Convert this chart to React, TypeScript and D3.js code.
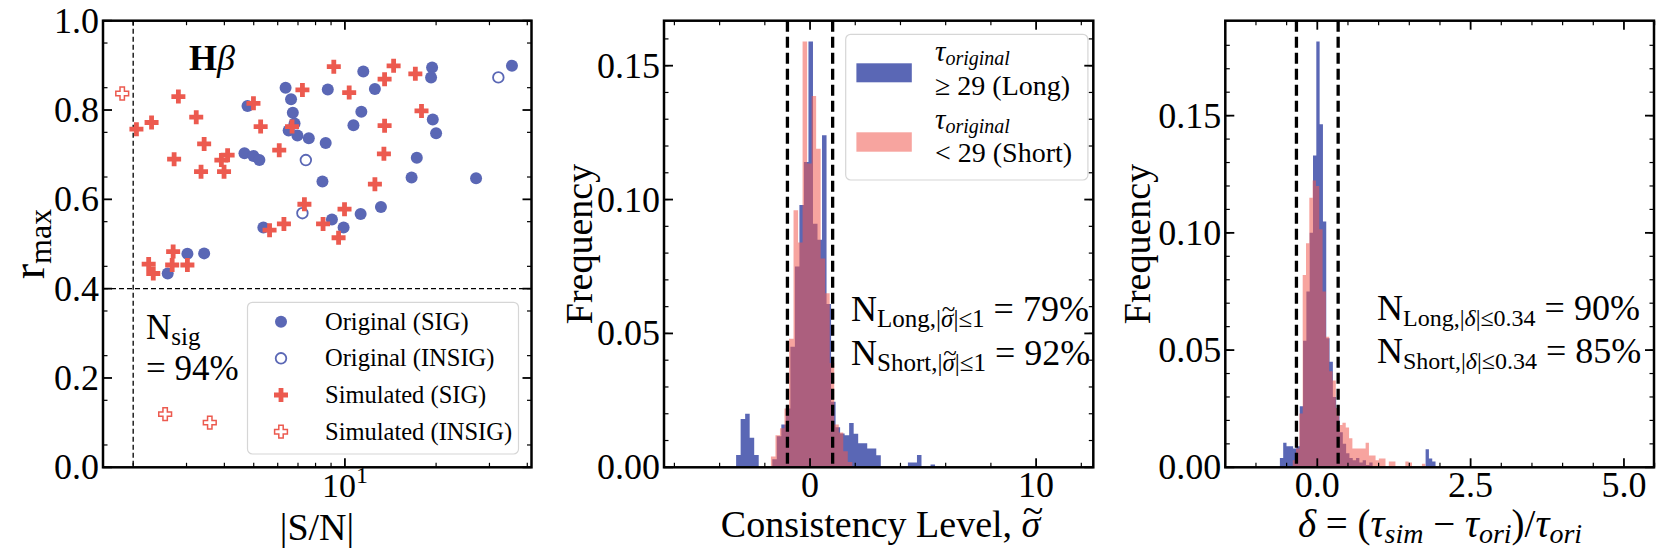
import React from "react";
import * as d3 from "d3";

const FONT = "'Liberation Serif','Times New Roman',serif";
const BLUE = "#5a67b5";
const RED = "#ec5a4f";
const HRED = "#f05a50";

// ---------------- Panel 1 : r_max vs |S/N| ----------------
const blueSigSN = [2.60, 3.02, 3.43, 4.66, 4.99, 5.22, 4.77, 5.38, 6.37, 6.64, 6.73, 6.82, 6.52, 6.97, 7.60, 8.64, 8.78, 8.43, 9.06, 9.90, 11.27, 11.5, 10.67, 11.33, 12.56, 13.15, 16.6, 17.27, 19.4, 19.25, 19.5, 20.0, 27.1, 35.6];
const blueSigR = [0.434, 0.478, 0.479, 0.703, 0.697, 0.688, 0.809, 0.537, 0.850, 0.824, 0.794, 0.770, 0.754, 0.743, 0.737, 0.726, 0.846, 0.640, 0.555, 0.537, 0.567, 0.886, 0.766, 0.796, 0.847, 0.583, 0.649, 0.693, 0.895, 0.873, 0.779, 0.748, 0.647, 0.899];
const blueInsigSN = [7.43, 7.24, 32.1];
const blueInsigR = [0.688, 0.569, 0.873];
const redSigSN = [2.05, 2.30, 2.82, 2.73, 3.23, 3.43, 3.35, 3.91, 4.10, 3.99, 2.25, 2.33, 2.71, 2.69, 3.02, 4.99, 5.27, 6.07, 6.69, 7.24, 5.64, 6.29, 7.35, 8.47, 9.53, 9.97, 9.19, 10.33, 13.52, 14.48, 13.52, 13.45, 12.56, 17.08, 17.9];
const redSigR = [0.757, 0.772, 0.830, 0.690, 0.784, 0.724, 0.662, 0.688, 0.699, 0.662, 0.455, 0.434, 0.483, 0.453, 0.453, 0.815, 0.763, 0.710, 0.763, 0.845, 0.531, 0.545, 0.589, 0.545, 0.514, 0.578, 0.897, 0.839, 0.869, 0.899, 0.765, 0.702, 0.634, 0.881, 0.798];
const redInsigSN = [1.84, 2.55, 3.58];
const redInsigR = [0.837, 0.119, 0.100];
const p1YTicks = [0, 0.2, 0.4, 0.6, 0.8, 1.0];
const p1YLabels = ["0.0", "0.2", "0.4", "0.6", "0.8", "1.0"];
const p1XMinor = [2, 3, 4, 5, 6, 7, 8, 9, 20, 30, 40];
const snThreshold = 2;
const rThreshold = 0.4;
const legend1 = ["Original (SIG)", "Original (INSIG)", "Simulated (SIG)", "Simulated (INSIG)"];

// ---------------- Panel 2 : consistency level histogram ----------------
const consBinW = 0.2;
const consBlueStart = -3.27;
const consBlue = [0.0046, 0.018, 0.020, 0.011, 0.0046, 0, 0, 0, 0.003, 0.0116, 0.016, 0.022, 0.045, 0.075, 0.098, 0.114, 0.159, 0.091, 0.085, 0.124, 0.061, 0.0245, 0.015, 0.0126, 0.012, 0.0165, 0.0125, 0.009, 0.009, 0.007, 0.007, 0.0045, 0, 0, 0, 0, 0, 0, 0.0018, 0.0018, 0.0046, 0, 0, 0.001];
const consRedStart = -1.73;
const consRed = [0.004, 0.012, 0.0146, 0.022, 0.048, 0.096, 0.084, 0.159, 0.1135, 0.1387, 0.119, 0.078, 0.065, 0.039, 0.016, 0.013, 0.006, 0.002];
const consXTicks = [0, 10];
const consYTicks = [0, 0.05, 0.10, 0.15];
const consYLabels = ["0.00", "0.05", "0.10", "0.15"];
const consLimit = 1;

// ---------------- Panel 3 : delta histogram ----------------
const delBinW = 0.054;
const delBlueStart = -0.61;
const delBlue = [0.004, 0.0105, 0.009, 0.009, 0.008, 0.009, 0.026, 0.054, 0.075, 0.10, 0.133, 0.1816, 0.1463, 0.1048, 0.055, 0.045, 0.03, 0.022, 0.015, 0.01, 0.006, 0.004, 0.003, 0.004, 0.002, 0.003, 0.001, 0.002, 0, 0, 0, 0, 0, 0, 0, 0, 0, 0, 0, 0, 0, 0, 0, 0, 0.0077, 0.0038, 0.0025];
const delRedStart = -0.40;
const delRed = [0.003, 0.008, 0.023, 0.082, 0.0956, 0.115, 0.1223, 0.12, 0.1015, 0.075, 0.0557, 0.041, 0.037, 0.0253, 0.018, 0.019, 0.017, 0.0124, 0.008, 0.008, 0.008, 0.008, 0.0105, 0.005, 0.005, 0.003, 0.0038, 0.0038, 0, 0.0025, 0.0025, 0, 0, 0, 0.0025, 0.002, 0, 0, 0, 0.0015];
const delXTicks = [0, 2.5, 5.0];
const delXLabels = ["0.0", "2.5", "5.0"];
const delYTicks = [0, 0.05, 0.10, 0.15];
const delLimit = 0.34;

// ---------------- layout ----------------
const TOP = 20.7;
const BOT = 467.3;
const P1 = [103, 531.5];
const P2 = [664, 1093.3];
const P3 = [1225.3, 1654];

const x1 = d3.scaleLog().domain([1.59, 41.3]).range(P1);
const y1 = d3.scaleLinear().domain([0, 1]).range([BOT, TOP]);
const x2 = d3.scaleLinear().domain([-6.46, 12.53]).range(P2);
const y2 = d3.scaleLinear().domain([0, 0.1668]).range([BOT, TOP]);
const x3 = d3.scaleLinear().domain([-1.5, 5.49]).range(P3);
const y3 = d3.scaleLinear().domain([0, 0.1905]).range([BOT, TOP]);

const MAJ = 9, MIN = 4.5;

function Ticks({ x, y, xMaj, xMin, yMaj, yMin }: any) {
  const [l, r] = x.range();
  const els: any[] = [];
  xMaj.forEach((v: number, i: number) => {
    const px = x(v);
    els.push(<line key={"xb" + i} x1={px} x2={px} y1={BOT} y2={BOT - MAJ} stroke="#000" strokeWidth={1.8} />);
    els.push(<line key={"xt" + i} x1={px} x2={px} y1={TOP} y2={TOP + MAJ} stroke="#000" strokeWidth={1.8} />);
  });
  xMin.forEach((v: number, i: number) => {
    const px = x(v);
    els.push(<line key={"xmb" + i} x1={px} x2={px} y1={BOT} y2={BOT - MIN} stroke="#000" strokeWidth={1.2} />);
    els.push(<line key={"xmt" + i} x1={px} x2={px} y1={TOP} y2={TOP + MIN} stroke="#000" strokeWidth={1.2} />);
  });
  yMaj.forEach((v: number, i: number) => {
    const py = y(v);
    els.push(<line key={"yl" + i} x1={l} x2={l + MAJ} y1={py} y2={py} stroke="#000" strokeWidth={1.8} />);
    els.push(<line key={"yr" + i} x1={r} x2={r - MAJ} y1={py} y2={py} stroke="#000" strokeWidth={1.8} />);
  });
  yMin.forEach((v: number, i: number) => {
    const py = y(v);
    els.push(<line key={"yml" + i} x1={l} x2={l + MIN} y1={py} y2={py} stroke="#000" strokeWidth={1.2} />);
    els.push(<line key={"ymr" + i} x1={r} x2={r - MIN} y1={py} y2={py} stroke="#000" strokeWidth={1.2} />);
  });
  return <g>{els}</g>;
}

function Frame({ x }: any) {
  const [l, r] = x.range();
  return <rect x={l} y={TOP} width={r - l} height={BOT - TOP} fill="none" stroke="#000" strokeWidth={2.5} />;
}

function YLabels({ x, y, vals, labels }: any) {
  const l = x.range()[0];
  return (
    <g fontFamily={FONT} fontSize={36} textAnchor="end">
      {vals.map((v: number, i: number) => (
        <text key={i} x={l - 4} y={y(v) + 12}>{labels[i]}</text>
      ))}
    </g>
  );
}

function Hist({ start, w, vals, x, y, fill, opacity }: any) {
  let d = "";
  vals.forEach((v: number, i: number) => {
    if (v <= 0) return;
    const a = x(start + i * w);
    const b = x(start + (i + 1) * w);
    d += `M${a},${y(0)}V${y(v)}H${b}V${y(0)}Z`;
  });
  return <path d={d} fill={fill} fillOpacity={opacity} />;
}

function plusPath(cx: number, cy: number, s = 7, a = 2.4) {
  return `M${cx - a},${cy - s}H${cx + a}V${cy - a}H${cx + s}V${cy + a}H${cx + a}V${cy + s}H${cx - a}V${cy + a}H${cx - s}V${cy - a}H${cx - a}Z`;
}

// sigma with a tilde over it, as tspans (fs = font size in px); `after` follows on the baseline
function SigmaTilde({ fs, up, after }: { fs: number; up: number; after?: string }) {
  const sw = 0.55 * fs;
  const tw = 0.541 * fs;
  return (
    <>
      <tspan fontStyle="italic">σ</tspan>
      <tspan dx={-(sw + tw) / 2 + 0.08 * fs} dy={-up * fs}>~</tspan>
      {after ? <tspan dx={(sw - tw) / 2 - 0.08 * fs} dy={up * fs}>{after}</tspan> : null}
    </>
  );
}

function Panel1() {
  const rows = [321.7, 358.3, 395, 431.7];
  const mx = 281;
  return (
    <g>
      <line x1={x1(snThreshold)} x2={x1(snThreshold)} y1={TOP} y2={BOT} stroke="#000" strokeWidth={1.3} strokeDasharray="5,3" />
      <line x1={P1[0]} x2={P1[1]} y1={y1(rThreshold)} y2={y1(rThreshold)} stroke="#000" strokeWidth={1.3} strokeDasharray="5,3" />
      {blueSigSN.map((v, i) => (
        <circle key={"bs" + i} cx={x1(v)} cy={y1(blueSigR[i])} r={6} fill={BLUE} />
      ))}
      {blueInsigSN.map((v, i) => (
        <circle key={"bi" + i} cx={x1(v)} cy={y1(blueInsigR[i])} r={5.3} fill="#fff" stroke={BLUE} strokeWidth={1.8} />
      ))}
      {redSigSN.map((v, i) => (
        <path key={"rs" + i} d={plusPath(x1(v), y1(redSigR[i]))} fill={RED} />
      ))}
      {redInsigSN.map((v, i) => (
        <path key={"ri" + i} d={plusPath(x1(v), y1(redInsigR[i]), 6.4, 2.2)} fill="#fff" stroke={RED} strokeWidth={1.5} />
      ))}
      <text x={189} y={70} fontFamily={FONT} fontSize={36}>
        <tspan fontWeight="bold">H</tspan>
        <tspan fontStyle="italic">β</tspan>
      </text>
      <text x={146} y={339} fontFamily={FONT} fontSize={35}>
        N<tspan fontSize={25} dy={6}>sig</tspan>
      </text>
      <text x={146} y={380} fontFamily={FONT} fontSize={35}>= 94%</text>
      <rect x={247.5} y={302.3} width={271} height={151.7} rx={5} fill="#fff" fillOpacity={0.85} stroke="#d6d6d6" strokeWidth={1.2} />
      <circle cx={mx} cy={rows[0]} r={6} fill={BLUE} />
      <circle cx={mx} cy={rows[1]} r={5.3} fill="#fff" stroke={BLUE} strokeWidth={1.8} />
      <path d={plusPath(mx, rows[2])} fill={RED} />
      <path d={plusPath(mx, rows[3], 6.4, 2.2)} fill="#fff" stroke={RED} strokeWidth={1.5} />
      <g fontFamily={FONT} fontSize={24.5}>
        {legend1.map((t, i) => (
          <text key={i} x={325} y={rows[i] + 8}>{t}</text>
        ))}
      </g>
      <Ticks x={x1} y={y1} xMaj={[10]} xMin={p1XMinor} yMaj={p1YTicks} yMin={d3.range(0.05, 1, 0.1)} />
      <Frame x={x1} />
      <YLabels x={x1} y={y1} vals={p1YTicks} labels={p1YLabels} />
      <text x={x1(10) - 23} y={497} fontFamily={FONT} fontSize={34}>
        10<tspan fontSize={24} dy={-14}>1</tspan>
      </text>
      <text x={317} y={540} fontFamily={FONT} fontSize={38} textAnchor="middle">|S/N|</text>
      <text transform={`translate(44,${(TOP + BOT) / 2}) rotate(-90)`} fontFamily={FONT} fontSize={46} textAnchor="middle">
        r<tspan fontSize={32} dy={7}>max</tspan>
      </text>
    </g>
  );
}

function Panel2() {
  return (
    <g>
      <Hist start={consBlueStart} w={consBinW} vals={consBlue} x={x2} y={y2} fill={BLUE} opacity={1} />
      <Hist start={consRedStart} w={consBinW} vals={consRed} x={x2} y={y2} fill={HRED} opacity={0.55} />
      {[-consLimit, consLimit].map((v, i) => (
        <line key={i} x1={x2(v)} x2={x2(v)} y1={TOP} y2={BOT} stroke="#000" strokeWidth={3.3} strokeDasharray="11,5" />
      ))}
      <rect x={845.7} y={34.3} width={242.2} height={145.7} rx={5} fill="#fff" fillOpacity={0.85} stroke="#d6d6d6" strokeWidth={1.2} />
      <rect x={856.4} y={63.3} width={55.4} height={19} fill={BLUE} />
      <rect x={856.4} y={132.3} width={55.4} height={19.4} fill={HRED} fillOpacity={0.55} />
      <g fontFamily={FONT}>
        <text x={935} y={61} fontSize={29}>
          <tspan fontStyle="italic">τ</tspan>
          <tspan fontStyle="italic" fontSize={20} dy={4}>original</tspan>
        </text>
        <text x={935} y={95} fontSize={28}>≥ 29 (Long)</text>
        <text x={935} y={129} fontSize={29}>
          <tspan fontStyle="italic">τ</tspan>
          <tspan fontStyle="italic" fontSize={20} dy={4}>original</tspan>
        </text>
        <text x={935} y={162} fontSize={28}>{"< 29 (Short)"}</text>
      </g>
      <g fontFamily={FONT} fontSize={36}>
        <text x={851} y={321}>
          N<tspan fontSize={25} dy={6}>Long,|</tspan>
          <tspan fontSize={25}><SigmaTilde fs={25} up={0.4} after="|≤1" /></tspan>
          <tspan dy={-6}> = 79%</tspan>
        </text>
        <text x={851} y={365}>
          N<tspan fontSize={25} dy={6}>Short,|</tspan>
          <tspan fontSize={25}><SigmaTilde fs={25} up={0.4} after="|≤1" /></tspan>
          <tspan dy={-6}> = 92%</tspan>
        </text>
      </g>
      <Ticks x={x2} y={y2} xMaj={consXTicks} xMin={d3.range(-6, 13, 2).filter((v) => v !== 0 && v !== 10)} yMaj={consYTicks} yMin={d3.range(0.01, 0.166, 0.01)} />
      <Frame x={x2} />
      <YLabels x={x2} y={y2} vals={consYTicks} labels={consYLabels} />
      <g fontFamily={FONT} fontSize={36} textAnchor="middle">
        {consXTicks.map((v, i) => (
          <text key={i} x={x2(v)} y={497}>{String(v)}</text>
        ))}
      </g>
      <text x={882} y={537} fontFamily={FONT} fontSize={38} textAnchor="middle">
        Consistency Level, <SigmaTilde fs={38} up={0.36} />
      </text>
      <text transform={`translate(592,${(TOP + BOT) / 2}) rotate(-90)`} fontFamily={FONT} fontSize={38} textAnchor="middle">Frequency</text>
    </g>
  );
}

function Panel3() {
  return (
    <g>
      <Hist start={delBlueStart} w={delBinW} vals={delBlue} x={x3} y={y3} fill={BLUE} opacity={1} />
      <Hist start={delRedStart} w={delBinW} vals={delRed} x={x3} y={y3} fill={HRED} opacity={0.55} />
      {[-delLimit, delLimit].map((v, i) => (
        <line key={i} x1={x3(v)} x2={x3(v)} y1={TOP} y2={BOT} stroke="#000" strokeWidth={3.3} strokeDasharray="11,5" />
      ))}
      <g fontFamily={FONT} fontSize={36}>
        <text x={1377} y={320}>
          N<tspan fontSize={24} dy={6}>Long,|<tspan fontStyle="italic">δ</tspan>|≤0.34</tspan>
          <tspan dy={-6}> = 90%</tspan>
        </text>
        <text x={1377} y={363}>
          N<tspan fontSize={24} dy={6}>Short,|<tspan fontStyle="italic">δ</tspan>|≤0.34</tspan>
          <tspan dy={-6}> = 85%</tspan>
        </text>
      </g>
      <Ticks x={x3} y={y3} xMaj={delXTicks} xMin={d3.range(-1.5, 5.6, 0.5).filter((v) => Math.abs(v % 2.5) > 1e-6)} yMaj={delYTicks} yMin={d3.range(0.01, 0.19, 0.01)} />
      <Frame x={x3} />
      <YLabels x={x3} y={y3} vals={delYTicks} labels={consYLabels} />
      <g fontFamily={FONT} fontSize={36} textAnchor="middle">
        {delXTicks.map((v, i) => (
          <text key={i} x={x3(v)} y={497}>{delXLabels[i]}</text>
        ))}
      </g>
      <text x={1440} y={537} fontFamily={FONT} fontSize={39} textAnchor="middle">
        <tspan fontStyle="italic">δ</tspan> = (<tspan fontStyle="italic">τ</tspan>
        <tspan fontStyle="italic" fontSize={28} dy={6}>sim</tspan>
        <tspan dy={-6}> − </tspan>
        <tspan fontStyle="italic">τ</tspan>
        <tspan fontStyle="italic" fontSize={28} dy={6}>ori</tspan>
        <tspan dy={-6}>)/</tspan>
        <tspan fontStyle="italic">τ</tspan>
        <tspan fontStyle="italic" fontSize={28} dy={6}>ori</tspan>
      </text>
      <text transform={`translate(1150,${(TOP + BOT) / 2}) rotate(-90)`} fontFamily={FONT} fontSize={38} textAnchor="middle">Frequency</text>
    </g>
  );
}

export default function App() {
  return (
    <svg width={1661} height={555} style={{ position: "absolute", left: 0, top: 0, background: "#fff" }}>
      <rect width={1661} height={555} fill="#fff" />
      <Panel1 />
      <Panel2 />
      <Panel3 />
    </svg>
  );
}
